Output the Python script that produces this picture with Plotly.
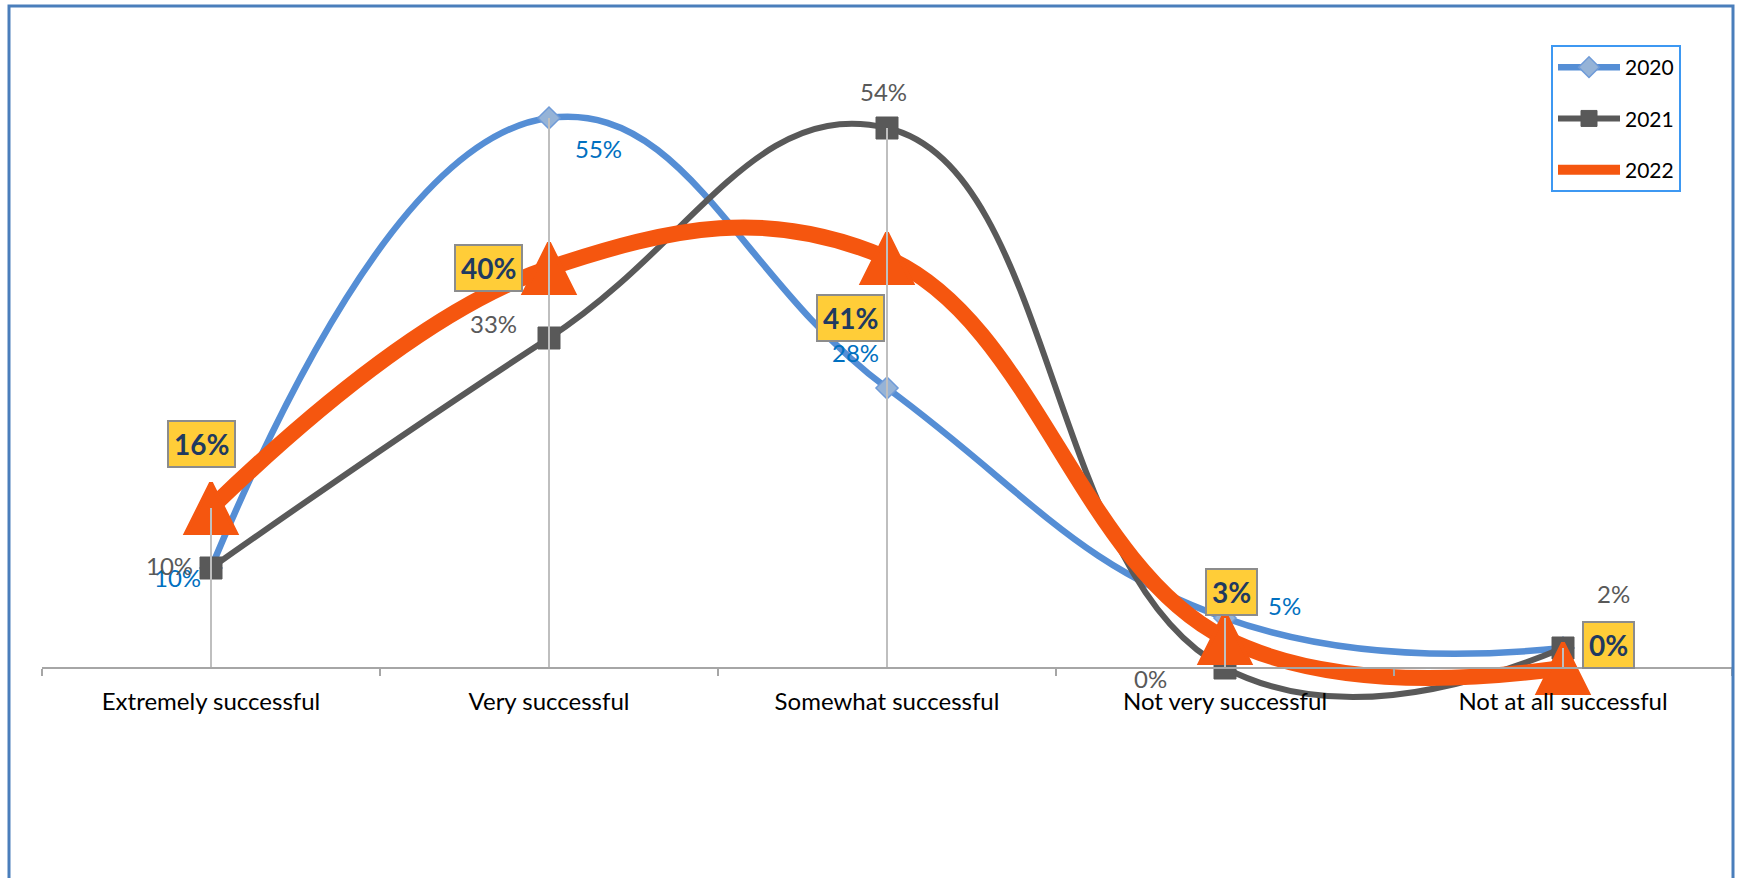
import plotly.graph_objects as go

# --- data -----------------------------------------------------------------
categories = ["Extremely successful", "Very successful", "Somewhat successful",
              "Not very successful", "Not at all successful"]
years = ["2020", "2021", "2022"]
pct_2020 = [10, 55, 28, 5, 2]
pct_2021 = [10, 33, 54, 0, 2]
pct_2022 = [16, 40, 41, 3, 0]

# --- page geometry --------------------------------------------------------
W, H = 1741, 878
M_L, M_R, M_T, M_B = 42, 9, 10, 118
Y_MIN, Y_MAX = -9.2, 65.8
PLOT_W = W - M_L - M_R
PLOT_H = H - M_T - M_B

FONT = "Lato"

# label placement (pixel offsets from each point: dx right, dy down)
label_offsets = {
    "2020": [(-34, 9), (49, 30), (-32, -36), (59, -13), None],
    "2021": [(-42, -3), (-56, -15), (-4, -37), (-75, 10), (50, -55)],
    "2022": [(-10, -64), (-61, 0), (-37, 60), (6, -46), (45, -23)],
}

series = {"2020": pct_2020, "2021": pct_2021, "2022": pct_2022}

fig = go.Figure()

# 2020: blue smoothed line with light diamonds
fig.add_trace(go.Scatter(
    x=categories, y=pct_2020, name="2020", legendgroup="2020",
    mode="lines+markers",
    line=dict(color="#558ED5", width=6.5, shape="spline", smoothing=1.3),
    marker=dict(symbol="diamond", size=17, color="#95B3D7",
                line=dict(color="#6F9BD8", width=1.5)),
))

# 2021: dark grey smoothed line with squares
fig.add_trace(go.Scatter(
    x=categories, y=pct_2021, name="2021", legendgroup="2021",
    mode="lines+markers",
    line=dict(color="#595959", width=6, shape="spline", smoothing=1.3),
    marker=dict(symbol="square", size=22, color="#595959",
                line=dict(color="#595959", width=1)),
))

# 2022: heavy orange smoothed line with large triangles centred on the points
TRI = 50
fig.add_trace(go.Scatter(
    x=categories, y=pct_2022, name="2022", legendgroup="2022",
    mode="lines+markers",
    line=dict(color="#F5560F", width=16, shape="spline", smoothing=1.15),
    marker=dict(symbol="arrow-down", angle=180, standoff=TRI / 2, size=TRI,
                color="#F5560F", line=dict(color="#F5560F", width=4)),
))

# drop lines from the highest value in each category down to the axis
drop_x, drop_y = [], []
for i, cat in enumerate(categories):
    top = max(v[i] for v in series.values())
    drop_x += [cat, cat, None]
    drop_y += [top, 0, None]
fig.add_trace(go.Scatter(
    x=drop_x, y=drop_y, mode="lines", showlegend=False, hoverinfo="skip",
    line=dict(color="#BFBFBF", width=2),
))

# --- data labels ----------------------------------------------------------
annotations = []
plain_colors = {"2020": "#0070C0", "2021": "#595959"}
for year, vals in series.items():
    for i, v in enumerate(vals):
        off = label_offsets[year][i]
        if off is None:
            continue
        dx, dy = off
        common = dict(x=categories[i], y=v, xref="x", yref="y",
                      xshift=dx, yshift=-dy, showarrow=False,
                      xanchor="center", yanchor="middle")
        if year == "2022":
            annotations.append(dict(
                text=f"<b>{v}%</b>",
                font=dict(family=FONT, size=28, color="#1F3A60"),
                bgcolor="#FFCD38", bordercolor="#8C8C8C",
                borderwidth=2, borderpad=5, **common))
        else:
            annotations.append(dict(
                text=f"{v}%",
                font=dict(family=FONT, size=24, color=plain_colors[year]),
                **common))

# x axis sits at the 0% level of the value scale
axis_pos = (0 - Y_MIN) / (Y_MAX - Y_MIN)

fig.update_layout(
    width=W, height=H,
    margin=dict(l=M_L, r=M_R, t=M_T, b=M_B),
    paper_bgcolor="white", plot_bgcolor="white",
    font=dict(family=FONT, color="black"),
    showlegend=True,
    hovermode=False,
    annotations=annotations,
    xaxis=dict(
        type="category", range=[-0.5, 4.5],
        anchor="free", position=axis_pos,
        showline=True, linecolor="#A6A6A6", linewidth=2,
        ticks="outside", tickson="boundaries", ticklen=7,
        tickcolor="#A6A6A6", tickwidth=1.5,
        showgrid=False, zeroline=False,
        tickfont=dict(family=FONT, size=24, color="black"),
        ticklabelstandoff=12,
    ),
    yaxis=dict(range=[Y_MIN, Y_MAX], visible=False, showgrid=False,
               zeroline=False),
    legend=dict(
        x=(1551 - M_L) / PLOT_W, y=(H - M_B - 45) / PLOT_H,
        xanchor="left", yanchor="top",
        bgcolor="white", bordercolor="#3D98F2", borderwidth=2,
        font=dict(family=FONT, size=21, color="black"),
        itemwidth=62, tracegroupgap=21, traceorder="grouped",
    ),
    shapes=[dict(
        type="rect", xref="paper", yref="paper",
        x0=(9 - M_L) / PLOT_W, x1=(1733 - M_L) / PLOT_W,
        y0=-0.6, y1=(H - M_B - 6) / PLOT_H,
        line=dict(color="#4A7EBB", width=3), fillcolor="rgba(0,0,0,0)",
        layer="above",
    )],
)

fig.write_html("out.html")
